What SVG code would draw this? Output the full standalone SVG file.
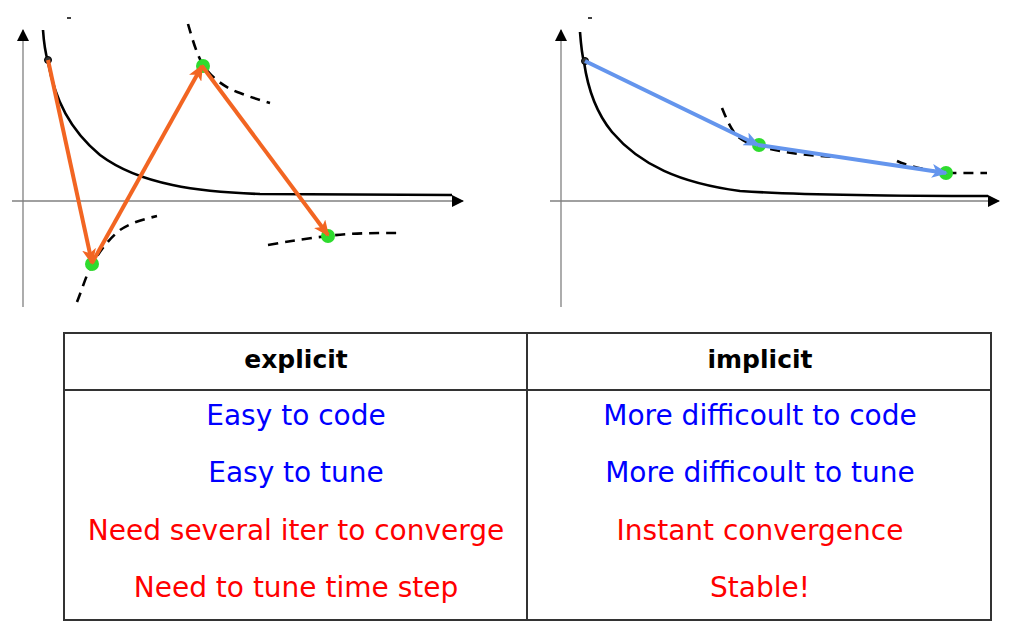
<svg xmlns="http://www.w3.org/2000/svg" width="1021" height="634" viewBox="0 0 1021 634">
<style>
.axis{stroke:#808080;stroke-width:1.3;fill:none}
.curve{stroke:#000;stroke-width:2.6;fill:none}
.dash{stroke:#000;stroke-width:2.6;fill:none;stroke-dasharray:10,7}
.ora{stroke:#F26522;stroke-width:4;fill:none}
.blu{stroke:#6495ED;stroke-width:4;fill:none}
.pt{fill:#2EDB2E}
.grid{stroke:#333;stroke-width:2;fill:none}
.t{font-family:"DejaVu Sans","Noto Sans",sans-serif;font-size:28px;text-anchor:middle}
.h{font-family:"DejaVu Sans","Noto Sans",sans-serif;font-size:25px;font-weight:bold;text-anchor:middle;fill:#000}
.b{fill:#0000FF}
.r{fill:#FF0000}
</style>
<defs>
<marker id="ah" markerWidth="12" markerHeight="12" refX="11" refY="6" orient="auto" markerUnits="userSpaceOnUse"><path d="M0,0 L12,6 L0,12 z" fill="#000"/></marker>
<marker id="oa" markerWidth="16" markerHeight="14" refX="14" refY="7" orient="auto" markerUnits="userSpaceOnUse"><path d="M0,0 L16,7 L0,14 L4,7 z" fill="#F26522"/></marker>
<marker id="ba" markerWidth="16" markerHeight="14" refX="14" refY="7" orient="auto" markerUnits="userSpaceOnUse"><path d="M0,0 L16,7 L0,14 L4,7 z" fill="#6495ED"/></marker>
</defs>

<g id="plot-explicit">
<line class="axis" x1="23" y1="307" x2="23" y2="30" marker-end="url(#ah)"/>
<line class="axis" x1="12" y1="201" x2="463" y2="201" marker-end="url(#ah)"/>
<path class="curve" d="M43,30 C44,45 46,55 48,62 C55,100 70,130 100,155 C140,185 200,192 260,194 L452,195"/>
<line x1="67" y1="18" x2="71" y2="18" stroke="#000" stroke-width="1.5"/>
<path class="dash" d="M77,302 C82,290 86,275 92,265 C100,250 110,238 120,230 C132,222 145,219 157,216"/>
<path class="dash" d="M188,24 C192,38 197,55 203,65 C212,78 225,88 240,93 C250,97 260,100 270,103"/>
<path class="dash" d="M268,245 C290,241 310,238 328,236 C350,233 375,233 402,233"/>
<circle cx="48" cy="60" r="3.5" fill="#333" stroke="#000" stroke-width="1"/>
<circle class="pt" cx="92" cy="264" r="7"/>
<circle class="pt" cx="203" cy="66" r="7"/>
<circle class="pt" cx="328" cy="236" r="7"/>
</g>

<g id="plot-implicit">
<line class="axis" x1="561" y1="307" x2="561" y2="30" stroke="#aaa" marker-end="url(#ah)"/>
<line class="axis" x1="550" y1="201" x2="999" y2="201" marker-end="url(#ah)"/>
<path class="curve" d="M580,32 C581,45 582,55 584,62 C588,90 598,115 612,132 C640,165 680,183 740,191 C800,195 880,196 988,196"/>
<line x1="588" y1="18" x2="592" y2="18" stroke="#000" stroke-width="1.5"/>
<path class="dash" d="M722,108 C726,118 730,127 736,135 C742,141 750,144 758,146 C775,151 800,155 835,157"/>
<path class="dash" d="M897,161 C905,165 925,170 946,173 L987,173"/>
<circle cx="585" cy="61" r="3.5" fill="#333" stroke="#000" stroke-width="1"/>
<circle class="pt" cx="759" cy="145" r="7"/>
<circle class="pt" cx="946" cy="173" r="7"/>
</g>

<g id="connectors">
<line class="ora" x1="48" y1="60" x2="92" y2="263" marker-end="url(#oa)"/>
<line class="ora" x1="92" y1="263" x2="202" y2="66" marker-end="url(#oa)"/>
<line class="ora" x1="202" y1="66" x2="328" y2="235" marker-end="url(#oa)"/>
<line class="blu" x1="585" y1="61" x2="758" y2="145" marker-end="url(#ba)"/>
<line class="blu" x1="758" y1="145" x2="946" y2="173" marker-end="url(#ba)"/>
</g>

<g id="table">
<rect class="grid" x="64" y="333" width="927" height="287"/>
<line class="grid" x1="64" y1="390" x2="991" y2="390"/>
<line class="grid" x1="527" y1="333" x2="527" y2="620"/>
<text class="h" x="296" y="368">explicit</text>
<text class="h" x="760" y="368">implicit</text>
<text class="t b" x="296" y="425">Easy to code</text>
<text class="t b" x="760" y="425">More difficoult to code</text>
<text class="t b" x="296" y="482">Easy to tune</text>
<text class="t b" x="760" y="482">More difficoult to tune</text>
<text class="t r" x="296" y="540">Need several iter to converge</text>
<text class="t r" x="760" y="540">Instant convergence</text>
<text class="t r" x="296" y="597">Need to tune time step</text>
<text class="t r" x="760" y="597">Stable!</text>
</g>
</svg>
